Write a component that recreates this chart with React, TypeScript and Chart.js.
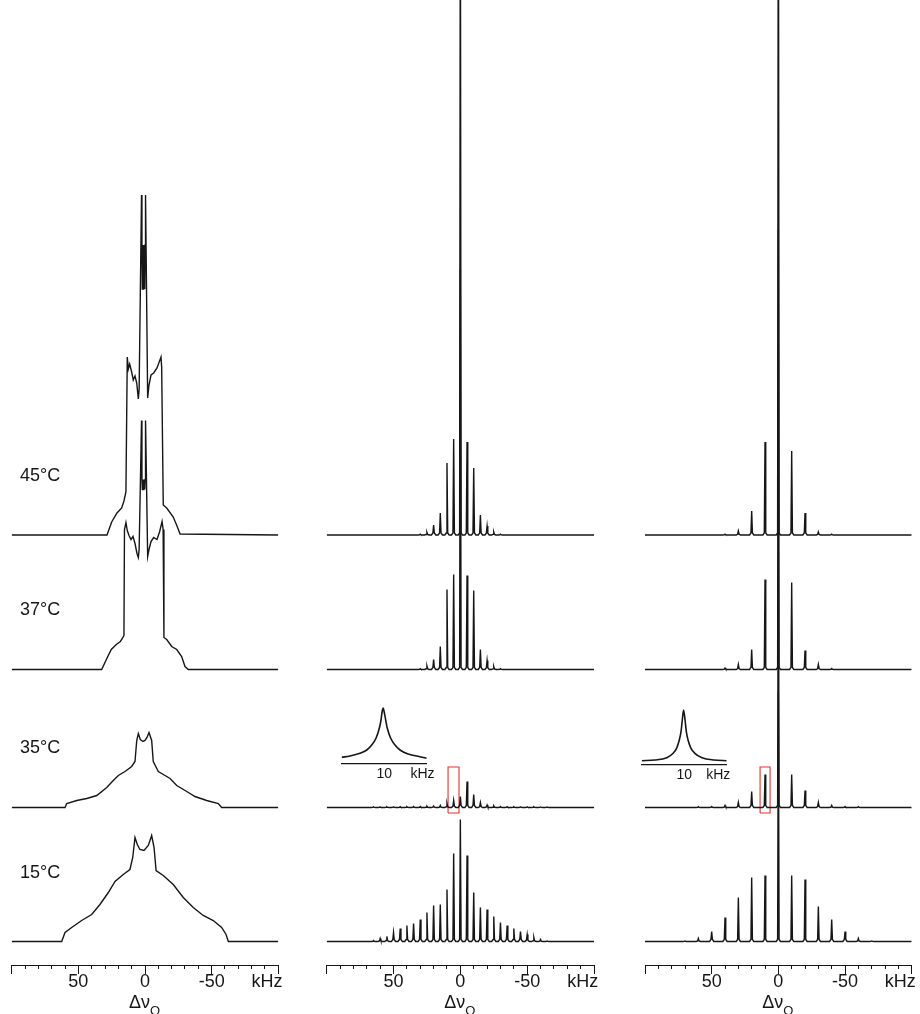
import React, { useEffect, useRef } from 'react';
import { Chart, registerables } from 'chart.js';

Chart.register(...registerables);

const FONT = "'Liberation Sans', Arial, Helvetica, sans-serif";
const INK = '#161616';
const RED = '#e0332f';
Chart.defaults.font.family = FONT;

// ---------------- data ----------------
const TEMPERATURES = ['45°C', '37°C', '35°C', '15°C'];
// vertical stacking offset of each temperature trace (intensity units)
const ROW_OFFSETS = [430, 295.5, 157.5, 23.5];

// axis ticks (kHz)
const AXIS_TICKS = [100, 90, 80, 70, 60, 50, 40, 30, 20, 10, 0, -10, -20, -30, -40, -50, -60, -70, -80, -90, -100];
const AXIS_MAJOR = [100, 50, 0, -50, -100];
const AXIS_LABEL_VALUES = [50, 0, -50];
const AXIS_LABEL_TEXT = ['50', '0', '-50'];
const UNIT_TICK = -91.5;
const UNIT_TEXT = 'kHz';

// column 1: static spectra, [kHz, intensity]
const STATIC_45 = [[100, 0], [28.5, 0], [25, 13], [21, 22], [17.5, 27], [15.8, 34], [14.3, 43], [13.3, 178], [12.5, 166], [11.5, 171], [10, 163], [8.8, 155], [7.5, 159], [6.2, 152], [5, 136], [4.4, 146], [2.6, 340], [2.3, 290], [2.0, 246], [1.7, 290], [1.4, 246], [1.1, 290], [0.8, 246], [0.5, 290], [0.2, 246], [-0.1, 290], [-0.4, 340], [-2, 137], [-3, 150], [-4.5, 160], [-6.5, 162], [-9, 167], [-12, 178], [-12.5, 168], [-13.7, 30], [-16.3, 27], [-21.2, 18], [-24, 9], [-26.3, 1], [-100, 0]];
const STATIC_37 = [[100, 0], [32.5, 0], [29, 10], [25.3, 20], [21.5, 25], [18.5, 28], [17, 31], [15.8, 34], [15.4, 140], [14.3, 147], [13.3, 139], [12, 134], [10.5, 130], [9, 133], [7.5, 126], [6, 116], [5, 112], [4.4, 120], [2.6, 249], [2.3, 190], [2.0, 180], [1.7, 190], [1.4, 180], [1.1, 190], [0.8, 180], [0.5, 190], [0.2, 180], [-0.1, 190], [-0.4, 249], [-2, 113], [-3, 120], [-4.5, 128], [-6.5, 132], [-9, 130], [-11, 138], [-12.8, 148], [-13.6, 140], [-14.2, 32], [-16.3, 30], [-20, 23], [-23.8, 20], [-27.5, 13], [-30, 3], [-32.5, 0], [-100, 0]];
const STATIC_35 = [[100, 0], [60, 0], [58.7, 4], [51.2, 7], [43.7, 9], [36.2, 12], [28.7, 20], [23.8, 27], [20, 32], [15, 36], [10, 41], [7.5, 46], [6.2, 67], [5, 74], [3.5, 68], [1.5, 66], [0, 67], [-1.5, 70], [-3, 75], [-5, 67], [-6.2, 46], [-10, 36], [-15, 32], [-18.8, 29], [-23.8, 22], [-31.3, 16], [-37.5, 11], [-46.3, 7], [-55, 4], [-57.5, 0], [-100, 0]];
const STATIC_15 = [[100, 0], [62.5, 0], [60, 9], [55, 14], [47.5, 21], [40, 27], [33.8, 37], [27.5, 49], [22.5, 60], [16.3, 67], [11.3, 72], [9.2, 84], [7.5, 104], [5.8, 97], [3.8, 92], [0.8, 91], [-2.5, 96], [-5, 106], [-6.8, 94], [-8.3, 71], [-13.7, 66], [-21.2, 57], [-28.7, 44], [-36.2, 34], [-43.7, 26], [-51.2, 21], [-57.5, 14], [-60.8, 7], [-62.5, 0], [-100, 0]];

// column 2: 5 kHz sideband positions and heights
const SB5_POS = [65, 60, 55, 50, 45, 40, 35, 30, 25, 20, 15, 10, 5, 0, -5, -10, -15, -20, -25, -30, -35, -40, -45, -50, -55, -60, -65];
const MAS5_45 = [0, 0, 0, 0, 0, 0, 0, 0.8, 2.7, 10, 22, 72, 96, 700, 93, 67, 20, 9, 3, 0.8, 0, 0, 0, 0, 0, 0, 0];
const MAS5_37 = [0, 0, 0, 0, 0, 0, 0, 0.8, 3.5, 10, 23, 80, 95, 400, 94, 79, 20, 9, 3, 0.8, 0, 0, 0, 0, 0, 0, 0];
const MAS5_35 = [0.6, 0.6, 0.7, 0.7, 0.8, 0.8, 0.9, 1, 1.2, 1.5, 2, 4, 7, 11, 26, 13, 5, 2.5, 1.5, 1, 0.8, 0.7, 0.7, 0.6, 0.6, 0.5, 0.5];
const MAS5_15 = [1, 3, 5, 9, 13, 16, 18, 22, 29, 36, 37, 52, 88, 122, 86, 49, 34, 32, 25, 19, 16, 13, 10, 7, 4, 2, 0.5];

// column 3: 10 kHz sideband positions and heights
const SB10_POS = [70, 60, 50, 40, 30, 20, 10, 0, -10, -20, -30, -40, -50, -60, -70];
const MAS10_45 = [0, 0, 0, 0.8, 4, 24, 93, 800, 84, 22, 3, 0.8, 0, 0, 0];
const MAS10_37 = [0, 0, 0, 1.5, 5, 20, 90, 440, 87, 19, 5, 1, 0, 0, 0];
const MAS10_35 = [0, 0.8, 1, 2, 5, 16, 33, 300, 33, 17, 5, 2, 1, 0.8, 0];
const MAS10_15 = [0.5, 3, 10, 24, 44, 64, 66, 250, 66, 62, 35, 22, 10, 3, 0.5];

// highlighted regions (35°C row): kHz range, intensity range relative to row
const HIGHLIGHT2_KHZ = [9.2, 1.0];
const HIGHLIGHT3_KHZ = [13.7, 6.2];
const HIGHLIGHT_INT = [-5.5, 40.5];

// insets: expanded line shape of the highlighted sideband
const INSET2_X = [0, 1.95, 4.3, 5.9, 7.06, 8.07, 8.85, 9.25, 9.5, 9.75, 10.0, 10.35, 10.73, 11.53, 12.54, 13.72, 15.67, 17.65, 20];
const INSET2_Y = [6.7, 8, 10.7, 14, 19, 25.7, 35.7, 44, 52, 56, 52, 44, 35.7, 25.7, 19, 14, 10, 8, 5.7];
const INSET3_X = [0, 3.1, 5.9, 7.4, 8.2, 8.85, 9.25, 9.55, 9.85, 10.2, 10.5, 10.9, 11.6, 12.5, 14.2, 17, 20];
const INSET3_Y = [3.6, 4.3, 6.6, 11, 16, 24.3, 32.6, 44.3, 54.3, 44.3, 32.6, 24.3, 16, 11, 6.6, 4.3, 3.6];
const INSET_TICK_TEXT = '10';
const INSET_TICK = 10;
const INSET2_UNIT = 19;
const INSET3_UNIT = 18;

// ---------------- helpers ----------------
function pairsToPoints(pairs: number[][], offset: number) {
  return pairs.map(([x, h]) => ({ x, y: offset + h }));
}

function stickSpectrum(pos: number[], heights: number[], offset: number) {
  const pts: { x: number; y: number }[] = [{ x: 100, y: offset }];
  pos.forEach((p, i) => {
    const h = heights[i];
    if (!h) return;
    const ped = Math.min(2, h * 0.2);
    pts.push(
      { x: p + 1.6, y: offset },
      { x: p + 0.55, y: offset + ped },
      { x: p, y: offset + h },
      { x: p - 0.55, y: offset + ped },
      { x: p - 1.6, y: offset }
    );
  });
  pts.push({ x: -100, y: offset });
  return pts;
}

function lineSet(data: { x: number; y: number }[], color = INK, width = 1.4) {
  return {
    data,
    showLine: true,
    borderColor: color,
    backgroundColor: color,
    borderWidth: width,
    pointRadius: 0,
    tension: 0,
  };
}

function boxSet(khz: number[], offset: number) {
  const [a, b] = khz;
  const [lo, hi] = HIGHLIGHT_INT;
  return lineSet(
    [
      { x: a, y: offset + lo },
      { x: a, y: offset + hi },
      { x: b, y: offset + hi },
      { x: b, y: offset + lo },
      { x: a, y: offset + lo },
    ],
    RED,
    1.1
  );
}

const axisDecor = {
  id: 'axisDecor',
  afterDraw(chart: any) {
    const { ctx, chartArea } = chart;
    const xs = chart.scales.x;
    ctx.save();
    ctx.strokeStyle = INK;
    ctx.lineWidth = 1;
    for (const v of AXIS_MAJOR) {
      const p = Math.round(xs.getPixelForValue(v) - 0.5) + 0.5;
      ctx.beginPath();
      ctx.moveTo(p, chartArea.bottom);
      ctx.lineTo(p, chartArea.bottom + 9);
      ctx.stroke();
    }
    const x0 = xs.getPixelForValue(0) - 16;
    ctx.fillStyle = INK;
    ctx.textAlign = 'left';
    ctx.textBaseline = 'alphabetic';
    ctx.font = `18px ${FONT}`;
    ctx.fillText('Δν', x0, chart.height - 6);
    const w = ctx.measureText('Δν').width;
    ctx.font = `13px ${FONT}`;
    ctx.fillText('Q', x0 + w, chart.height + 0.5);
    ctx.restore();
  },
};

function mainConfig(datasets: any[], padLeft: number, padRight: number): any {
  return {
    type: 'scatter',
    data: { datasets },
    options: {
      animation: false,
      responsive: false,
      maintainAspectRatio: false,
      layout: { padding: { left: padLeft, right: padRight, top: 0, bottom: 0 } },
      plugins: { legend: { display: false }, tooltip: { enabled: false } },
      scales: {
        x: {
          type: 'linear',
          min: -100,
          max: 100,
          reverse: true,
          afterBuildTicks: (s: any) => {
            const t = AXIS_TICKS.map((v) => ({ value: v }));
            t.splice(t.length - 1, 0, { value: UNIT_TICK });
            s.ticks = t;
          },
          afterFit: (s: any) => {
            s.height = 49;
            s.paddingLeft = 0;
            s.paddingRight = 0;
          },
          ticks: {
            autoSkip: false,
            maxRotation: 0,
            minRotation: 0,
            padding: 2,
            color: INK,
            font: { size: 18, family: FONT },
            callback: (v: number) => {
              if (v === UNIT_TICK) return UNIT_TEXT;
              const i = AXIS_LABEL_VALUES.indexOf(v);
              return i >= 0 ? AXIS_LABEL_TEXT[i] : '';
            },
          },
          grid: {
            display: true,
            drawOnChartArea: false,
            drawTicks: true,
            tickLength: 4,
            tickWidth: 1,
            tickColor: (c: any) => (c.tick && c.tick.value === UNIT_TICK ? 'rgba(0,0,0,0)' : INK),
          },
          border: { display: true, color: INK, width: 1 },
        },
        y: { display: false, min: 0, max: 965 },
      },
    },
    plugins: [axisDecor],
  };
}

function insetConfig(xs: number[], ys: number[], unitPos: number, yMax: number, padL: number, padR: number, axisH: number): any {
  return {
    type: 'scatter',
    data: {
      datasets: [
        {
          data: xs.map((x, i) => ({ x, y: ys[i] })),
          showLine: true,
          borderColor: INK,
          borderWidth: 1.6,
          pointRadius: 0,
          cubicInterpolationMode: 'monotone',
        },
      ],
    },
    options: {
      animation: false,
      responsive: false,
      maintainAspectRatio: false,
      layout: { padding: { left: padL, right: padR, top: 10, bottom: 0 } },
      plugins: { legend: { display: false }, tooltip: { enabled: false } },
      scales: {
        x: {
          type: 'linear',
          min: 0,
          max: 20,
          afterBuildTicks: (s: any) => {
            s.ticks = [{ value: INSET_TICK }, { value: unitPos }];
          },
          afterFit: (s: any) => {
            s.height = axisH;
            s.paddingLeft = 0;
            s.paddingRight = 0;
          },
          ticks: {
            autoSkip: false,
            maxRotation: 0,
            minRotation: 0,
            padding: 2,
            color: INK,
            font: { size: 14, family: FONT },
            callback: (v: number) => (v === INSET_TICK ? INSET_TICK_TEXT : UNIT_TEXT),
          },
          grid: { display: false, drawTicks: false, tickLength: 0 },
          border: { display: true, color: INK, width: 1.3 },
        },
        y: { display: false, min: 0, max: yMax },
      },
    },
  };
}

export default function App() {
  const c1 = useRef<HTMLCanvasElement>(null);
  const c2 = useRef<HTMLCanvasElement>(null);
  const c3 = useRef<HTMLCanvasElement>(null);
  const i2 = useRef<HTMLCanvasElement>(null);
  const i3 = useRef<HTMLCanvasElement>(null);

  useEffect(() => {
    const statics = [STATIC_45, STATIC_37, STATIC_35, STATIC_15];
    const mas5 = [MAS5_45, MAS5_37, MAS5_35, MAS5_15];
    const mas10 = [MAS10_45, MAS10_37, MAS10_35, MAS10_15];

    const ds1 = statics.map((s, r) => lineSet(pairsToPoints(s, ROW_OFFSETS[r])));
    const ds2 = mas5.map((h, r) => lineSet(stickSpectrum(SB5_POS, h, ROW_OFFSETS[r])));
    ds2.push(boxSet(HIGHLIGHT2_KHZ, ROW_OFFSETS[2]));
    const ds3 = mas10.map((h, r) => lineSet(stickSpectrum(SB10_POS, h, ROW_OFFSETS[r])));
    ds3.push(boxSet(HIGHLIGHT3_KHZ, ROW_OFFSETS[2]));

    const charts: Chart[] = [];
    charts.push(new Chart(c1.current as HTMLCanvasElement, mainConfig(ds1, 11.7, 21.7)));
    charts.push(new Chart(c2.current as HTMLCanvasElement, mainConfig(ds2, 26.7, 26)));
    charts.push(new Chart(c3.current as HTMLCanvasElement, mainConfig(ds3, 25, 8.3)));
    charts.push(new Chart(i2.current as HTMLCanvasElement, insetConfig(INSET2_X, INSET2_Y, INSET2_UNIT, 64, 11.7, 33.3, 26)));
    charts.push(new Chart(i3.current as HTMLCanvasElement, insetConfig(INSET3_X, INSET3_Y, INSET3_UNIT, 64.3, 11.7, 23.3, 25.7)));
    return () => charts.forEach((c) => c.destroy());
  }, []);

  const labelCenters = [475, 609, 747, 872];
  const abs = (left: number, top: number): React.CSSProperties => ({ position: 'absolute', left, top });

  return (
    <div style={{ position: 'absolute', left: 0, top: 0, width: 920, height: 1014, overflow: 'hidden', background: '#fff' }}>
      <canvas ref={c1} width={300} height={1014} style={abs(0, 0)} />
      <canvas ref={c2} width={320} height={1014} style={abs(300, 0)} />
      <canvas ref={c3} width={300} height={1014} style={abs(620, 0)} />
      <canvas ref={i2} width={130} height={100} style={abs(330, 690)} />
      <canvas ref={i3} width={120} height={100} style={abs(630, 690)} />
      {TEMPERATURES.map((t, i) => (
        <div
          key={t}
          style={{
            position: 'absolute',
            left: 20,
            top: labelCenters[i] - 11,
            font: `18px ${FONT}`,
            lineHeight: '22px',
            color: INK,
            whiteSpace: 'nowrap',
          }}
        >
          {t}
        </div>
      ))}
    </div>
  );
}
